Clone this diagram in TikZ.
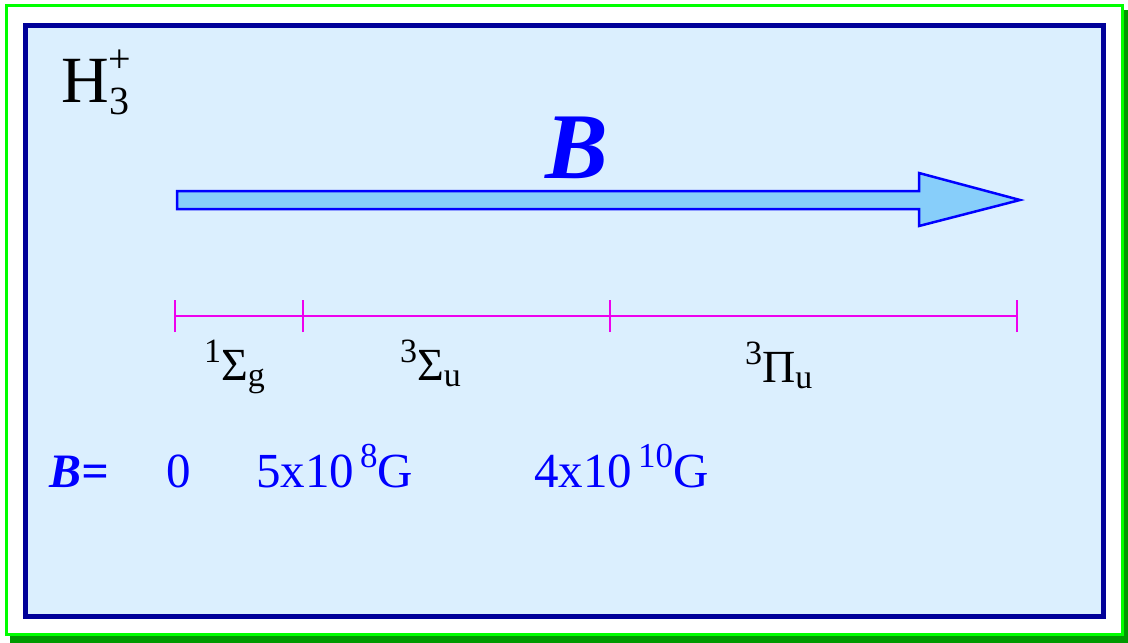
\documentclass[tikz,border=0pt]{standalone}
\usepackage{fontspec}
\setmainfont{Liberation Serif}
\usetikzlibrary{positioning}
\definecolor{framegreen}{RGB}{0, 255, 0}
\definecolor{shadowgreen}{RGB}{0, 153, 0}
\definecolor{framenavy}{RGB}{0, 0, 153}
\definecolor{panelblue}{RGB}{219, 239, 254}
\definecolor{arrowblue}{RGB}{0, 0, 255}
\definecolor{arrowfill}{RGB}{135, 206, 250}
\definecolor{scalemagenta}{RGB}{238, 0, 238}
\newcommand{\fsz}[1]{\fontsize{#1}{#1}\selectfont}
\newcommand{\termsym}[3]{{\fsz{34}\raisebox{18pt}{#1}}#2{\fsz{34}\raisebox{-6pt}{#3}}}

\begin{document}
\begin{tikzpicture}[x=1pt, y=-1pt,
    txt/.style={inner sep=0pt, anchor=base west},
    val/.style={txt, text=arrowblue, font=\fsz{49}}]
      \useasboundingbox (0,0) rectangle (1128,643);
      % frames
      \fill[shadowgreen] (1124,10) -- (1128,10) -- (1128,643) -- (10,643) -- (10,636) -- (1124,636) -- cycle;
      \draw[framegreen, fill=white, line width=3pt] (6.5,5.5) rectangle (1122.5,634);
      \draw[framenavy, fill=panelblue, line width=5pt] (25.5,25) rectangle (1103.5,616.5);
      % field arrow
      \filldraw[fill=arrowfill, draw=arrowblue, line width=2.5pt, line join=miter]
        (177,191) -- (919,191) -- (919,173) -- (1020,200) -- (919,226) -- (919,209) -- (177,209) -- cycle;
      \node[txt, anchor=base, text=arrowblue, font=\fsz{94}\bfseries\itshape] (bbig) at (577,178) {B};
      \node[txt, font=\fsz{66}] (hion) at (61,102) {H};
      \node[txt, font=\fsz{40}] (hsub) at (hion.base east) [yshift=-12pt] {3};
      \node[txt, font=\fsz{40}] (hsup) at (hion.base east) [yshift=30pt, xshift=-1pt] {+};
      % state scale
      \coordinate (s0) at (175,316);
      \coordinate (s1) at (303,316);
      \coordinate (s2) at (610,316);
      \coordinate (s3) at (1017,316);
      \draw[scalemagenta, line width=2.2pt] (s0) -- (s3);
      \foreach \t in {s0,s1,s2,s3}
        \draw[scalemagenta, line width=2.2pt] ([yshift=-16pt]\t) -- ([yshift=16pt]\t);
      \node[txt, font=\fsz{46}] (sg) at (204,380) {\termsym{1}{Σ}{g}};
      \node[txt, font=\fsz{46}] (su) at (400,380) {\termsym{3}{Σ}{u}};
      \node[txt, font=\fsz{46}] (pu) at (745,382) {\termsym{3}{Π}{u}};
      % field values
      \node[val, font=\fsz{48}\bfseries\itshape] (blbl) at (49,487) {B=};
      \node[val] (v0) at (166,487) {0};
      \node[val] (v1) at (256,487) {5x10\kern6pt\raisebox{20pt}{\fsz{35}8}G};
      \node[val] (v2) at (534,487) {4x10\kern6pt\raisebox{20pt}{\fsz{35}10}G};
    \end{tikzpicture}
\end{document}
